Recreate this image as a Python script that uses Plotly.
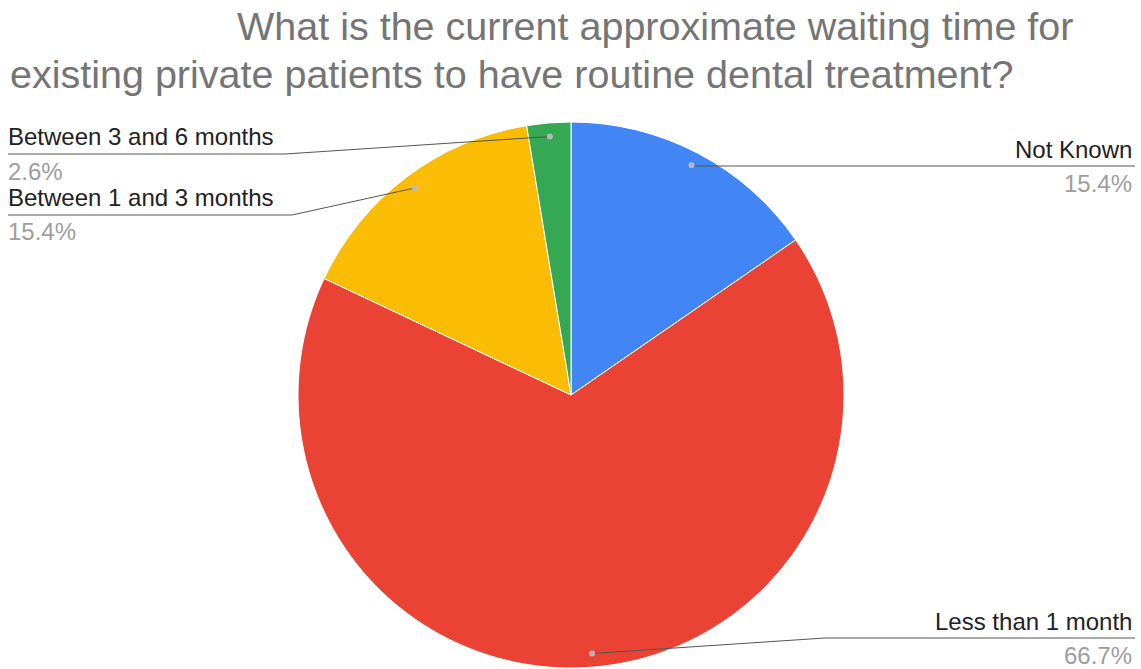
import math
import plotly.graph_objects as go

# ---- data ----
labels = ["Not Known", "Less than 1 month", "Between 1 and 3 months", "Between 3 and 6 months"]
values = [15.4, 66.7, 15.4, 2.6]
pct_text = ["15.4%", "66.7%", "15.4%", "2.6%"]
colors = ["#4285F4", "#EA4335", "#FBBC04", "#34A853"]
title_lines = ["What is the current approximate waiting time for",
               "existing private patients to have routine dental treatment?"]

# ---- layout constants (pixels) ----
W, H = 1141, 669
CX, CY, R = 571, 395, 273
DOT_FRAC = 0.95
label_side = ["right", "right", "left", "left"]
label_line_y = [166, 638, 215, 154]
label_elbow_x = [None, 825, 292, 285]
LEFT_X, RIGHT_X = 8, 1135


def px(x):
    return x / W


def py(y):
    return 1 - y / H


fig = go.Figure(go.Pie(
    labels=labels, values=values, sort=False, direction="clockwise", rotation=0,
    marker=dict(colors=colors, line=dict(color="white", width=1)),
    textinfo="none", hoverinfo="label+percent", showlegend=False,
    domain=dict(x=[px(CX - R), px(CX + R)], y=[py(CY + R), py(CY - R)]),
))

shapes = []
annotations = []
total = sum(values)
cum = 0.0
for i, v in enumerate(values):
    mid = (cum + v / 2) / total * 2 * math.pi
    cum += v
    dx = CX + math.sin(mid) * R * DOT_FRAC
    dy = CY - math.cos(mid) * R * DOT_FRAC
    ly = label_line_y[i]
    ex = label_elbow_x[i] if label_elbow_x[i] is not None else dx
    endx = RIGHT_X if label_side[i] == "right" else LEFT_X
    shapes.append(dict(type="path", xref="paper", yref="paper",
                       path=f"M {px(dx)} {py(dy)} L {px(ex)} {py(ly)} L {px(endx)} {py(ly)}",
                       line=dict(color="#555555", width=1)))
    shapes.append(dict(type="circle", xref="paper", yref="paper",
                       x0=px(dx - 3), x1=px(dx + 3), y0=py(dy + 3), y1=py(dy - 3),
                       fillcolor="rgba(190,190,190,0.9)", line=dict(width=0)))
    anchor = "right" if label_side[i] == "right" else "left"
    tx = RIGHT_X - 1 if anchor == "right" else LEFT_X - 2
    annotations.append(dict(x=px(tx), y=py(ly - 17), xref="paper", yref="paper",
                            text=labels[i], showarrow=False, xanchor=anchor, yanchor="middle",
                            font=dict(family="Liberation Sans, Arial", size=24, color="#222222")))
    annotations.append(dict(x=px(tx), y=py(ly + 17), xref="paper", yref="paper",
                            text=pct_text[i], showarrow=False, xanchor=anchor, yanchor="middle",
                            font=dict(family="Liberation Sans, Arial", size=24, color="#9e9e9e")))

annotations.append(dict(x=px(235), y=py(26), xref="paper", yref="paper", text=title_lines[0],
                        showarrow=False, xanchor="left", yanchor="middle",
                        font=dict(family="Liberation Sans, Arial", size=39.5, color="#757575")))
annotations.append(dict(x=px(8), y=py(74), xref="paper", yref="paper", text=title_lines[1],
                        showarrow=False, xanchor="left", yanchor="middle",
                        font=dict(family="Liberation Sans, Arial", size=39.5, color="#757575")))

fig.update_layout(width=W, height=H, margin=dict(l=0, r=0, t=0, b=0),
                  paper_bgcolor="white", plot_bgcolor="white",
                  shapes=shapes, annotations=annotations)

fig.write_html("out.html")
